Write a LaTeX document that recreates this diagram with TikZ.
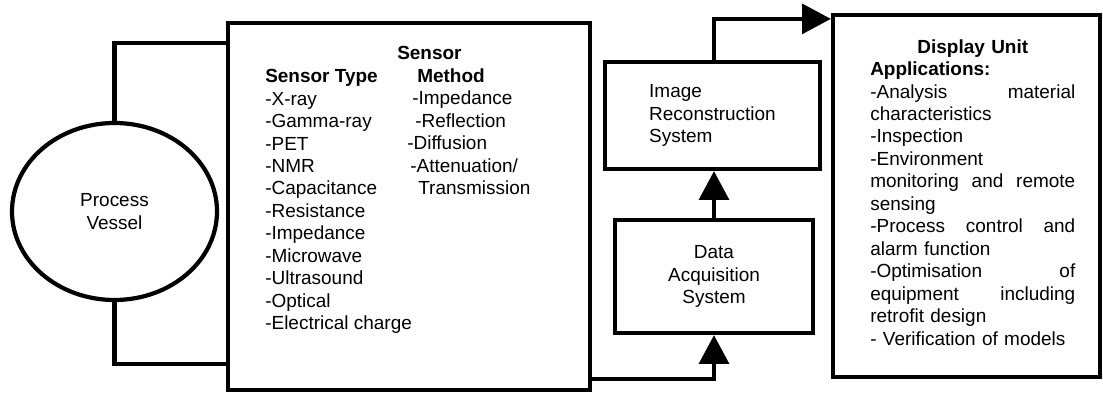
\documentclass[tikz,border=0pt]{standalone}
\usepackage{fontspec}
\setmainfont{Liberation Sans}
\usetikzlibrary{arrows.meta, shapes.geometric, calc}

\begin{document}
\begin{tikzpicture}[
  every node/.style={font=\fontsize{13.5}{16}\selectfont},
  box/.style={draw, line width=3pt, inner sep=0pt},
  txt/.style={inner sep=0pt, align=left, anchor=north west},
  wire/.style={line width=3pt},
  flow/.style={line width=3pt, -{Triangle[length=0.72cm, width=0.74cm]}}]

  \useasboundingbox (0,0) rectangle (27.575,9.85);

  % boxes
  \node[box, ellipse, minimum width=5.125cm, minimum height=4.425cm,
        align=center] (vessel) at (2.8625,4.5625) {Process\\Vessel};
  \node[box, minimum width=9.05cm, minimum height=9.175cm]
        (sensor) at (10.225,4.6875) {};
  \node[box, minimum width=5.375cm, minimum height=2.675cm,
        align=left] (ir) at (17.8125,6.9625) {Image\\Reconstruction\\System};
  \node[box, minimum width=4.95cm, minimum height=2.825cm,
        align=center] (daq) at (17.85,2.9375) {Data\\Acquisition\\System};
  \node[box, minimum width=6.675cm, minimum height=9.05cm]
        (display) at (24.1625,4.95) {};

  % sensor lists
  \node[txt] (types) at (6.625,8.125) {\textbf{Sensor Type}\\
                                        -X-ray\\
                                        -Gamma-ray\\
                                        -PET\\
                                        -NMR\\
                                        -Capacitance\\
                                        -Resistance\\
                                        -Impedance\\
                                        -Microwave\\
                                        -Ultrasound\\
                                        -Optical\\
                                        -Electrical charge};

  \node[txt] (methods) at (9.925,8.69) {\textbf{Sensor}\\
                                        \hspace*{0.5cm}\textbf{Method}\\
                                        \hspace*{0.375cm}-Impedance\\
                                        \hspace*{0.45cm}-Reflection\\
                                        \hspace*{0.25cm}-Diffusion\\
                                        \hspace*{0.325cm}-Attenuation/\\
                                        \hspace*{0.525cm}Transmission};

  % display unit
  \node[txt, text width=5.125cm] (apps) at (21.75,8.875) {%
      \hfill\textbf{Display Unit}\hfill\mbox{}\\
      \textbf{Applications:}\\
      -Analysis\hfill material\\
      characteristics\\
      -Inspection\\
      -Environment\\
      monitoring\hfill and\hfill remote\\
      sensing\\
      -Process\hfill control\hfill and\\
      alarm function\\
      -Optimisation\hfill of\\
      equipment\hfill including\\
      retrofit design\\
      - Verification of models};

  % connectors
  \draw[wire] (vessel.north) |- ([yshift=-0.55cm]sensor.north west);
  \draw[wire] (vessel.south) |- ([yshift=0.7cm]sensor.south west);
  \draw[flow] ([yshift=0.325cm]sensor.south east) -| (daq.south);
  \draw[flow] (daq.north) -- (ir.south -| daq.north);
  \draw[flow] (ir.north -| daq.north) |- ([yshift=-0.15cm]display.north west);
\end{tikzpicture}
\end{document}
